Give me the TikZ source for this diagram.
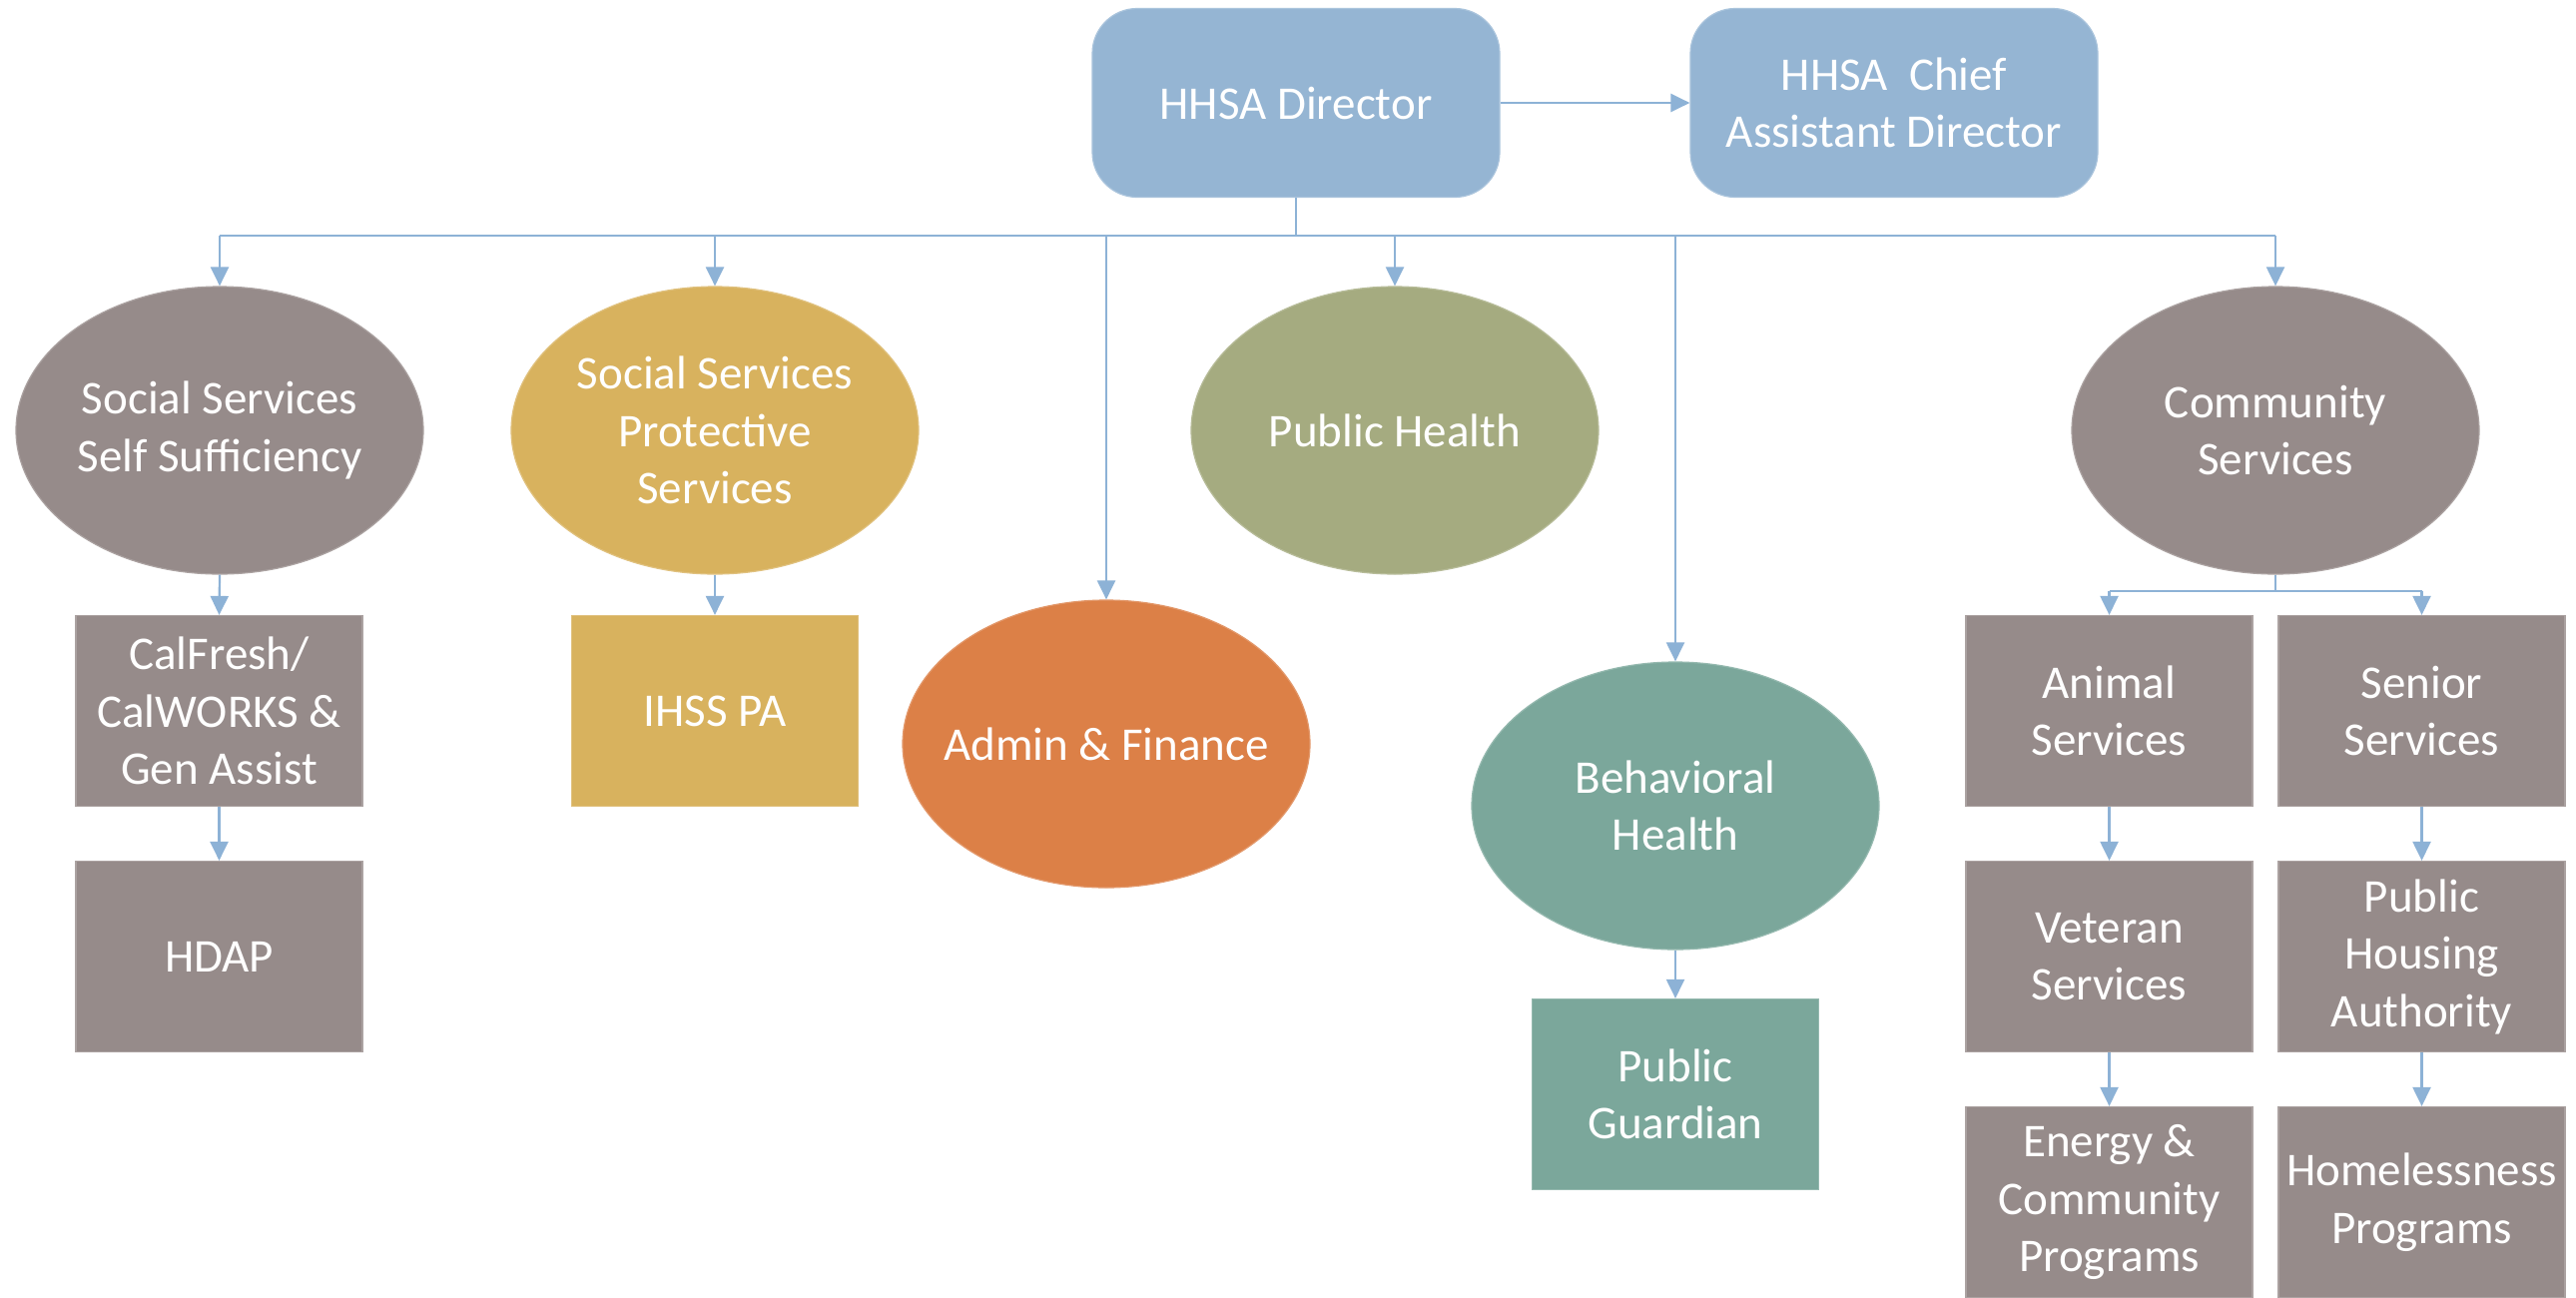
\documentclass[tikz,border=0pt]{standalone}
\usepackage{fontspec}
\setmainfont{Carlito}
\usetikzlibrary{shapes.geometric,arrows.meta}
\definecolor{cblue}{HTML}{95B5D3}
\definecolor{cline}{HTML}{8DB2D6}
\definecolor{cgrey}{HTML}{968B8A}
\definecolor{cgold}{HTML}{D8B25E}
\definecolor{colive}{HTML}{A5AB80}
\definecolor{corange}{HTML}{DC8047}
\definecolor{cteal}{HTML}{7BA79B}
\begin{document}
\begin{tikzpicture}[x=1pt,y=-1pt,
  lbl/.style={text=white, font=\fontsize{47}{57.5}\selectfont, align=center, inner sep=0pt},
  ovalnode/.style={lbl, ellipse, inner xsep=-70pt, inner ysep=-40pt, minimum width=408pt, minimum height=288pt, fill=#1, draw=#1!80!white, line width=1.2pt},
  boxnode/.style={lbl, rectangle, minimum width=287pt, minimum height=191pt, fill=#1, draw=#1!80!white, line width=1.2pt},
  topnode/.style={lbl, rectangle, rounded corners=45pt, minimum width=408pt, minimum height=189pt, fill=cblue, draw=cblue!80!white, line width=1.2pt},
  conn/.style={draw=cline, line width=2.2pt},
  arr/.style={conn, -{Triangle[length=19pt,width=18pt]}},
]
\useasboundingbox (0,0) rectangle (2580,1299);
\fill[white] (0,0) rectangle (2580,1299);

\node[topnode] (dir) at (1298,103) {HHSA Director};
\node[topnode] (chief) at (1897,103) {HHSA\ \ Chief\\Assistant Director};

\node[ovalnode=cgrey] (sss) at (220,431) {Social Services\\Self Sufficiency};
\node[ovalnode=cgold] (ssp) at (716,431) {Social Services\\Protective\\Services};
\node[ovalnode=colive] (ph) at (1397,431) {Public Health};
\node[ovalnode=cgrey] (cs) at (2279,431) {Community\\Services};
\node[ovalnode=corange] (af) at (1108,745) {Admin \& Finance};
\node[ovalnode=cteal] (bh) at (1678,807) {Behavioral\\Health};

\node[boxnode=cgrey] (cal) at (219.5,712) {CalFresh/\\CalWORKS \&\\Gen Assist};
\node[boxnode=cgrey] (hdap) at (219.5,958) {HDAP};
\node[boxnode=cgold] (ihss) at (716,712) {IHSS PA};
\node[boxnode=cteal] (pg) at (1678,1096) {Public\\Guardian};
\node[boxnode=cgrey] (ani) at (2112.5,712) {Animal\\Services};
\node[boxnode=cgrey] (sen) at (2425.5,712) {Senior\\Services};
\node[boxnode=cgrey] (vet) at (2112.5,958) {Veteran\\Services};
\node[boxnode=cgrey] (pha) at (2425.5,958) {Public\\Housing\\Authority};
\node[boxnode=cgrey] (eng) at (2112.5,1204) {Energy \&\\Community\\Programs};
\node[boxnode=cgrey] (hom) at (2425.5,1204) {Homelessness\\Programs};

\draw[arr] (dir.east) -- (chief.west);

\coordinate (bus) at (1298,236);
\draw[conn] (dir.south) -- (bus);
\draw[conn] (sss.north |- bus) -- (cs.north |- bus);
\foreach \n in {sss,ssp,af,ph,bh,cs}{
  \draw[arr] (\n.north |- bus) -- (\n.north);
}

\draw[arr] (sss.south) -- (cal.north);
\draw[arr] (cal.south) -- (hdap.north);
\draw[arr] (ssp.south) -- (ihss.north);
\draw[arr] (bh.south) -- (pg.north);

\coordinate (cbus) at (2279,592);
\draw[conn] (cs.south) -- (cbus);
\draw[conn] (ani.north |- cbus) -- (sen.north |- cbus);
\draw[arr] (ani.north |- cbus) -- (ani.north);
\draw[arr] (sen.north |- cbus) -- (sen.north);
\draw[arr] (ani.south) -- (vet.north);
\draw[arr] (vet.south) -- (eng.north);
\draw[arr] (sen.south) -- (pha.north);
\draw[arr] (pha.south) -- (hom.north);
\end{tikzpicture}
\end{document}
